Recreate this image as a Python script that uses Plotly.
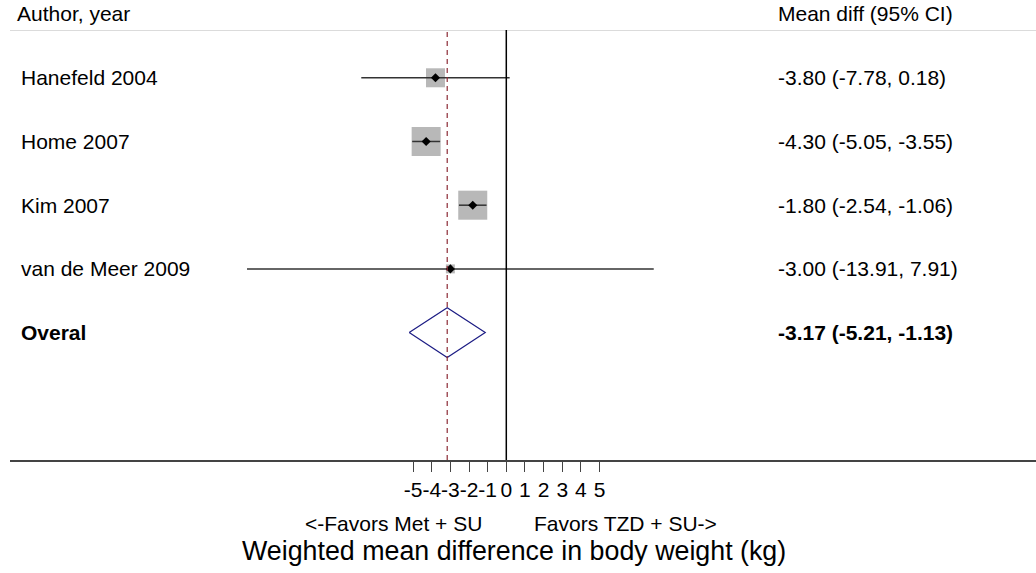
import plotly.graph_objects as go
import numpy as np

studies = ["Hanefeld 2004", "Home 2007", "Kim 2007", "van de Meer 2009"]
est = [-3.80, -4.30, -1.80, -3.00]
lo = [-7.78, -5.05, -2.54, -13.91]
hi = [0.18, -3.55, -1.06, 7.91]
weights = [17.0, 39.6, 39.6, 3.8]  # approx % weights (box area)

overall_label = "Overal"
overall_est = -3.17
overall_lo = -5.21
overall_hi = -1.13

tick_vals = [-5, -4, -3, -2, -1, 0, 1, 2, 3, 4, 5]
tick_text = ["-5", "-4", "-3", "-2", "-1", "0", "1", "2", "3", "4", "5"]

FONT = "Liberation Sans, Arial, Helvetica, sans-serif"
rows = list(range(len(studies)))
overall_row = len(studies)

fig = go.Figure()

# weight boxes
box_sizes = [4.61 * np.sqrt(w) for w in weights]
fig.add_trace(go.Scatter(x=est, y=rows, mode="markers",
                         marker=dict(symbol="square", size=box_sizes, color="#b8b8b8",
                                     opacity=1, line=dict(width=0)),
                         hoverinfo="skip", showlegend=False))
# CI lines
for i in rows:
    fig.add_trace(go.Scatter(x=[lo[i], hi[i]], y=[i, i], mode="lines",
                             line=dict(color="#333333", width=1.5),
                             hoverinfo="skip", showlegend=False))
# point estimates
fig.add_trace(go.Scatter(x=est, y=rows, mode="markers",
                         marker=dict(symbol="diamond", size=7, color="black", opacity=1),
                         hoverinfo="skip", showlegend=False))

# overall diamond
h = 0.39
fig.add_trace(go.Scatter(
    x=[overall_lo, overall_est, overall_hi, overall_est, overall_lo],
    y=[overall_row, overall_row - h, overall_row, overall_row + h, overall_row],
    mode="lines", line=dict(color="#1c1c84", width=1.2),
    hoverinfo="skip", showlegend=False))

shapes = [
    dict(type="line", xref="paper", yref="y", x0=0, x1=1, y0=-0.75, y1=-0.75,
         line=dict(color="#cfcfcf", width=1.5)),
    dict(type="line", xref="x", yref="y", x0=0, x1=0, y0=-0.75, y1=6,
         line=dict(color="black", width=1.5)),
    dict(type="line", xref="x", yref="y", x0=overall_est, x1=overall_est, y0=-0.72, y1=6,
         line=dict(color="#8c2a35", width=1.2, dash="5px,4px")),
]

TXT = dict(size=21, color="black", family=FONT)
LX = 0.0088
RX = 0.747
ann = []
ann.append(dict(text="Author, year", xref="paper", yref="paper", x=0.0049, y=1.038,
                xanchor="left", yanchor="middle", showarrow=False, font=TXT))
ann.append(dict(text="Mean diff (95% CI)", xref="paper", yref="paper", x=RX, y=1.038,
                xanchor="left", yanchor="middle", showarrow=False, font=TXT))
for i in rows:
    ann.append(dict(text=studies[i], xref="paper", yref="y", x=LX, y=i,
                    xanchor="left", yanchor="middle", showarrow=False, font=TXT))
    ann.append(dict(text=f"{est[i]:.2f} ({lo[i]:.2f}, {hi[i]:.2f})", xref="paper", yref="y",
                    x=RX, y=i, xanchor="left", yanchor="middle", showarrow=False, font=TXT))
ann.append(dict(text=f"<b>{overall_label}</b>", xref="paper", yref="y", x=LX, y=overall_row,
                xanchor="left", yanchor="middle", showarrow=False, font=TXT))
ann.append(dict(text=f"<b>{overall_est:.2f} ({overall_lo:.2f}, {overall_hi:.2f})</b>",
                xref="paper", yref="y", x=RX, y=overall_row, xanchor="left",
                yanchor="middle", showarrow=False, font=TXT))
ann.append(dict(text="<-Favors Met + SU", xref="x", yref="paper", x=0, y=-0.148,
                xanchor="right", yanchor="middle", xshift=-22, showarrow=False, font=TXT))
ann.append(dict(text="Favors TZD + SU->", xref="x", yref="paper", x=0, y=-0.148,
                xanchor="left", yanchor="middle", xshift=26, showarrow=False, font=TXT))
ann.append(dict(text="Weighted mean difference in body weight (kg)", xref="x", yref="paper",
                x=0.4, y=-0.211, xanchor="center", yanchor="middle", showarrow=False,
                font=dict(size=26.8, color="black", family=FONT)))

px_per_unit = 18.64
zero_px = 506.3
left_px, right_px = 10, 1036
fig.update_layout(
    width=1036, height=573,
    margin=dict(l=10, r=0, t=30, b=113),
    paper_bgcolor="white", plot_bgcolor="white",
    xaxis=dict(range=[(left_px - zero_px) / px_per_unit, (right_px - zero_px) / px_per_unit],
               tickvals=tick_vals, ticktext=tick_text, tickangle=0,
               showgrid=False, zeroline=False, showline=True, linecolor="#444444", linewidth=1.5,
               ticks="outside", ticklen=10, tickcolor="#444444", tickwidth=1,
               tickfont=dict(size=21, color="black", family=FONT), fixedrange=True),
    yaxis=dict(range=[6, -0.75], visible=False, fixedrange=True),
    shapes=shapes, annotations=ann, showlegend=False,
)

fig.write_html("out.html", config={"displayModeBar": False, "staticPlot": True},
               post_script="document.body.style.margin='0';document.body.style.overflow='hidden';")
